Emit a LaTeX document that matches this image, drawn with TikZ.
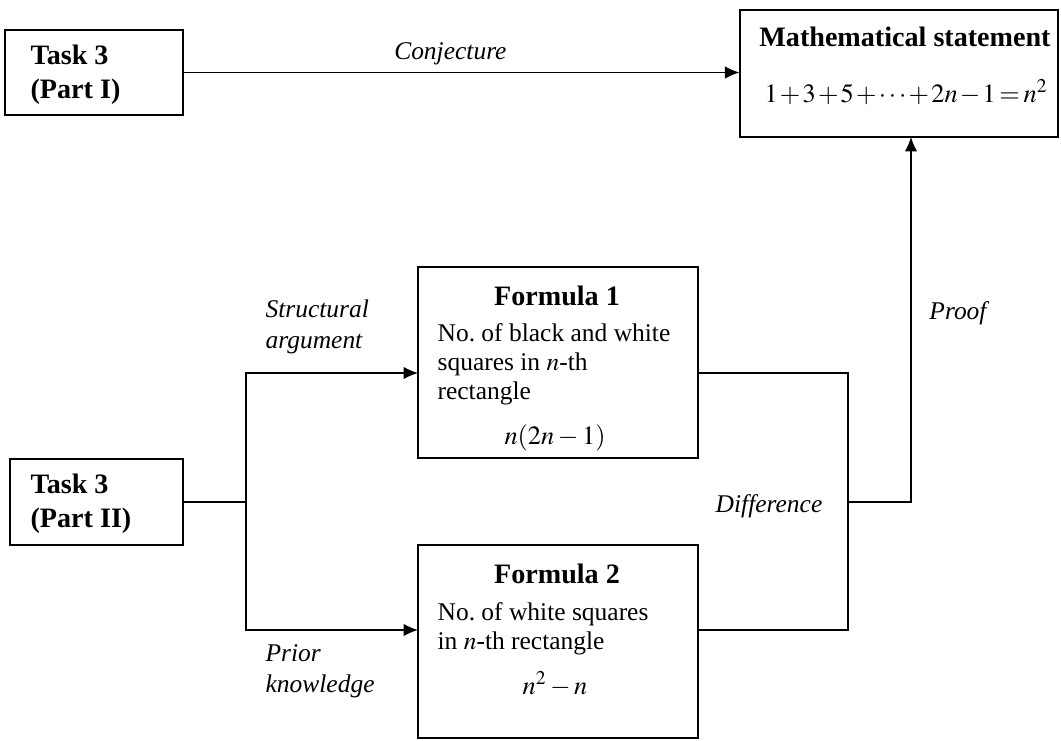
\documentclass[tikz,border=0pt]{standalone}
\usepackage{mathptmx}
\usepackage{fontspec}
\setmainfont{Liberation Serif}
\usetikzlibrary{arrows.meta}

\begin{document}
\begin{tikzpicture}[x=0.02cm,y=-0.02cm,>={Latex[length=2.9mm,width=2.5mm]},line width=0.7pt,
  box/.style={draw,inner sep=0pt},
  head/.style={font=\fontsize{16}{19.5}\selectfont\bfseries,inner sep=0pt},
  body/.style={font=\fontsize{14.5}{16.6}\selectfont,align=left,inner sep=0pt},
  formula/.style={font=\fontsize{15}{18}\selectfont,inner sep=0pt},
  edge label/.style={font=\fontsize{14.5}{17.5}\selectfont\itshape,align=left,inner sep=0pt}]
  \useasboundingbox (0,0) rectangle (1061,740);

  \node[box,minimum width=3.56cm,minimum height=1.7cm] (t1) at (94,72.5) {};
  \node[box,minimum width=3.46cm,minimum height=1.72cm] (t2) at (96.5,502) {};
  \node[box,minimum width=6.36cm,minimum height=2.54cm] (ms) at (899,73.5) {};
  \node[box,minimum width=5.6cm,minimum height=3.82cm] (f1) at (558,362.5) {};
  \node[box,minimum width=5.6cm,minimum height=3.86cm] (f2) at (558,641.5) {};

  \node[head,align=left,anchor=west] (t1 text) at (30,75) {Task 3\\(Part I)};
  \node[head,align=left,anchor=west] (t2 text) at (30,504) {Task 3\\(Part II)};
  \node[head] (ms head) at (905,37) {Mathematical statement};
  \node[formula] (ms formula) at (906,92) {$\medmuskip=1.5mu\relax\thickmuskip=2.5mu\relax 1+3+5+\cdots+2n-1=n^2$};
  \node[head] (f1 head) at (557,296) {Formula 1};
  \node[body,anchor=west] (f1 text) at (437,364) {No.\ of black and white\\squares in $n$-th\\rectangle};
  \node[formula] (f1 formula) at (555,438) {$n(2n-1)$};
  \node[head] (f2 head) at (557,574) {Formula 2};
  \node[body,anchor=west] (f2 text) at (437,629) {No.\ of white squares\\in $n$-th rectangle};
  \node[formula] (f2 formula) at (555,684) {$n^2-n$};

  \coordinate (jl) at (246,502);
  \coordinate (jr) at (848,502);
  \coordinate (a1) at (418,373);
  \coordinate (a2) at (418,630);
  \coordinate (b1) at (698,373);
  \coordinate (b2) at (698,630);
  \coordinate (pr) at (911,137);

  \draw[->] (t1) -- (t1 -| ms.west) node[edge label,pos=0.48,above=4pt] {Conjecture};
  \draw (t2) -- (jl);
  \draw[->] (jl) |- (a1);
  \draw[->] (jl) |- (a2);
  \draw (b1) -| (jr) |- (b2);
  \draw[->] (jr) -| (pr);

  \node[edge label,anchor=west] (struct) at (265,327) {Structural\\argument};
  \node[edge label,anchor=west] (prior) at (265,671) {Prior\\knowledge};
  \node[edge label] (diff) at (769,506) {Difference};
  \node[edge label] (proof) at (958,313) {Proof};
\end{tikzpicture}
\end{document}
